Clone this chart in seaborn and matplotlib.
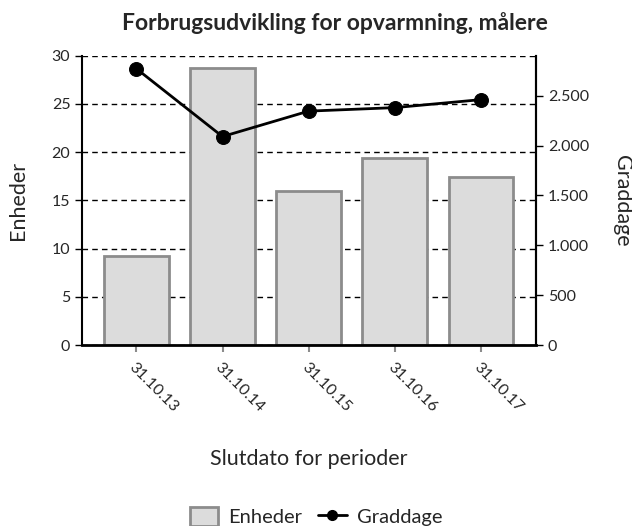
import pandas as pd
import seaborn as sns
import matplotlib.pyplot as plt
from matplotlib.patches import Patch
from matplotlib.lines import Line2D
from matplotlib.ticker import FuncFormatter

sns.set_style("white")
plt.rcParams['font.family'] = ['Lato', 'DejaVu Sans']

# data
perioder = ["31.10.13", "31.10.14", "31.10.15", "31.10.16", "31.10.17"]
enheder = [9.2, 28.7, 16.0, 19.4, 17.4]
graddage = [2770, 2090, 2345, 2380, 2460]

df = pd.DataFrame({"periode": perioder, "enheder": enheder, "graddage": graddage})

fig = plt.figure(figsize=(6.32, 5.26), dpi=100)
ax = fig.add_axes([0.130, 0.344, 0.718, 0.550])

sns.barplot(data=df, x="periode", y="enheder", ax=ax, color="#dcdcdc",
            edgecolor="#8c8c8c", linewidth=2, width=0.75, saturation=1)
ax.set_xlim(-0.63, 4.64)
ax.set_ylim(0, 30)
ax.set_yticks(range(0, 31, 5))
ax.set_axisbelow(True)
ax.yaxis.grid(True, color="black", linestyle=(0, (4, 3)), linewidth=1)
ax.set_xlabel("Slutdato for perioder", fontsize=15.5)
ax.xaxis.set_label_coords(0.5, -0.36)
ax.set_ylabel("Enheder", fontsize=15.5, va="center")
ax.yaxis.set_label_coords(-0.141, 0.5)
ax.tick_params(axis="y", left=True, length=5, width=1, labelsize=11.5, color="black")
ax.tick_params(axis="x", bottom=True, length=5, width=1.5, color="#8c8c8c",
               labelsize=11.5, pad=6)
plt.setp(ax.get_xticklabels(), rotation=-45, ha="left", va="top", rotation_mode="anchor")
for side in ["left", "right"]:
    ax.spines[side].set_color("black")
    ax.spines[side].set_linewidth(1.5)
ax.spines["bottom"].set_color("black")
ax.spines["bottom"].set_linewidth(2)
ax.spines["top"].set_visible(False)

ax2 = ax.twinx()
sns.lineplot(data=df, x="periode", y="graddage", ax=ax2, color="black",
             linewidth=2, marker="o", markersize=10, markeredgecolor="black", sort=False)
ax2.set_ylim(0, 2900)
ax2.set_yticks(range(0, 2501, 500))
ax2.yaxis.set_major_formatter(FuncFormatter(lambda v, p: f"{int(v):,}".replace(",", ".")))
ax2.set_ylabel("Graddage", fontsize=15.5, rotation=-90, va="center")
ax2.yaxis.set_label_coords(1.19, 0.5)
ax2.tick_params(axis="y", right=True, length=5, width=1, labelsize=11.5, color="black")
for s in ax2.spines.values():
    s.set_visible(False)
ax2.spines["right"].set_visible(True)
ax2.spines["right"].set_color("black")
ax2.spines["right"].set_linewidth(1.5)

fig.suptitle("Forbrugsudvikling for opvarmning, målere", x=0.53, y=0.977,
             fontsize=16.5, fontweight="bold")

handles = [Patch(facecolor="#dcdcdc", edgecolor="#8c8c8c", linewidth=2, label="Enheder"),
           Line2D([0], [0], color="black", linewidth=2, marker="o", markersize=7, label="Graddage")]
fig.legend(handles=handles, loc="center", bbox_to_anchor=(0.5, 0.018), ncol=2,
           frameon=False, fontsize=14.5, handlelength=1.4, handleheight=1.1,
           columnspacing=0.8, handletextpad=0.5)

fig.savefig("out.png", dpi=100)
